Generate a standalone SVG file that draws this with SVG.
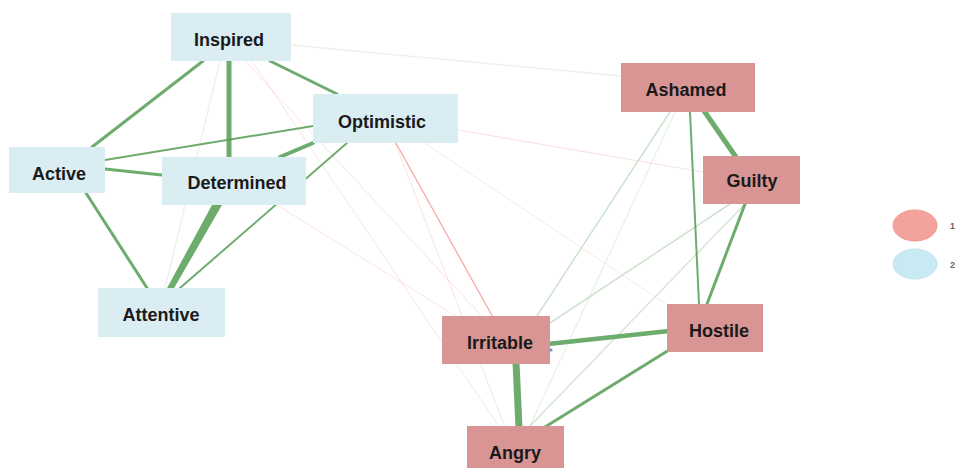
<svg xmlns="http://www.w3.org/2000/svg" width="962" height="468" viewBox="0 0 962 468">
<style>
.bg{fill:#ffffff}
.nb{fill:#daedf3}
.nr{fill:#d99594}
.lbl{font-family:"Liberation Sans",Arial,sans-serif;font-weight:bold;font-size:18px;fill:#1a1a1a;text-anchor:middle}
.g{stroke:#559e55;stroke-linecap:round;fill:none;stroke-opacity:0.85}
.gf{stroke:#6fb06f;stroke-linecap:round;fill:none;stroke-opacity:0.35}
.gvf{stroke:#8cc48c;fill:none;stroke-opacity:0.2}
.r{stroke:#f28c8c;fill:none;stroke-opacity:0.75}
.rf{stroke:#f4a0a0;fill:none;stroke-opacity:0.3}
.leg{font-family:"Liberation Sans",Arial,sans-serif;font-size:9px;font-weight:bold;fill:#666666}
</style>
<rect class="bg" x="0" y="0" width="962" height="468"/>
<g id="connectors">
  <line class="rf" x1="245" y1="61" x2="490" y2="325" stroke-width="1"/>
  <line class="rf" x1="252" y1="61" x2="508" y2="440" stroke-width="1"/>
  <line class="rf" x1="277" y1="205" x2="470" y2="325" stroke-width="1"/>
  <line class="rf" x1="394" y1="140" x2="510" y2="440" stroke-width="1"/>
  <line class="rf" x1="458" y1="130" x2="703" y2="172" stroke-width="1.2"/>
  <line class="rf" x1="420" y1="140" x2="690" y2="320" stroke-width="0.8"/>
  <line class="r" x1="392" y1="136" x2="500" y2="330" stroke-width="1.3"/>
  <line class="gvf" x1="291" y1="45" x2="621" y2="76" stroke-width="1.3"/>
  <line class="gvf" x1="220" y1="61" x2="165" y2="288" stroke-width="1.3"/>
  <line class="g" x1="203" y1="61" x2="92" y2="147" stroke-width="3"/>
  <line class="g" x1="229" y1="55" x2="229" y2="160" stroke-width="5"/>
  <line class="g" x1="270" y1="61" x2="337" y2="94" stroke-width="3"/>
  <line class="g" x1="105" y1="160" x2="313" y2="126" stroke-width="2"/>
  <line class="g" x1="105" y1="169" x2="162" y2="175" stroke-width="3"/>
  <line class="g" x1="86" y1="193" x2="147" y2="288" stroke-width="3"/>
  <line class="g" x1="313" y1="143" x2="280" y2="157" stroke-width="4"/>
  <line class="g" x1="347" y1="143" x2="180" y2="288" stroke-width="2"/>
  <path d="M212,205 L222,205 L173,290 L166,290 Z" fill="#559e55" fill-opacity="0.85"/>
  <line class="gf" x1="670" y1="112" x2="537" y2="316" stroke-width="1.5"/>
  <line class="gvf" x1="675" y1="112" x2="530" y2="426" stroke-width="1.3"/>
  <line class="gf" x1="730" y1="204" x2="550" y2="323" stroke-width="1.5"/>
  <line class="gf" x1="745" y1="204" x2="530" y2="426" stroke-width="1.2"/>
  <line class="g" x1="690" y1="112" x2="699" y2="304" stroke-width="2" stroke-opacity="0.5"/>
  <line class="g" x1="700" y1="105" x2="738" y2="160" stroke-width="5"/>
  <line class="g" x1="745" y1="204" x2="707" y2="304" stroke-width="3"/>
  <line class="g" x1="548" y1="344" x2="669" y2="331" stroke-width="4.5"/>
  <line class="g" x1="669" y1="350" x2="545" y2="427" stroke-width="3"/>
  <line class="g" x1="516" y1="362" x2="519" y2="428" stroke-width="7"/>
</g>
<g id="node-inspired"><rect class="nb" x="171" y="13" width="120" height="48"/><text class="lbl" x="229" y="46">Inspired</text></g>
<g id="node-optimistic"><rect class="nb" x="313" y="94" width="145" height="49"/><text class="lbl" x="382" y="128">Optimistic</text></g>
<g id="node-active"><rect class="nb" x="9" y="147" width="96" height="46"/><text class="lbl" x="59" y="180">Active</text></g>
<g id="node-determined"><rect class="nb" x="162" y="157" width="144" height="48"/><text class="lbl" x="237" y="189">Determined</text></g>
<g id="node-attentive"><rect class="nb" x="98" y="288" width="127" height="49"/><text class="lbl" x="161" y="321">Attentive</text></g>
<g id="node-ashamed"><rect class="nr" x="621" y="63" width="134" height="49"/><text class="lbl" x="686" y="96">Ashamed</text></g>
<g id="node-guilty"><rect class="nr" x="703" y="156" width="97" height="48"/><text class="lbl" x="752" y="187">Guilty</text></g>
<g id="node-hostile"><rect class="nr" x="667" y="304" width="96" height="48"/><text class="lbl" x="719" y="337">Hostile</text></g>
<g id="node-irritable"><rect class="nr" x="442" y="316" width="108" height="48"/><text class="lbl" x="500" y="349">Irritable</text></g>
<g id="node-angry"><rect class="nr" x="467" y="426" width="97" height="46"/><text class="lbl" x="515" y="459">Angry</text></g>
<circle cx="551" cy="350" r="1.6" fill="#3b5bab" fill-opacity="0.7"/>
<g id="legend">
  <ellipse cx="915" cy="225.5" rx="22" ry="15.5" fill="#f4a29c" stroke="#ee9a94" stroke-width="1"/>
  <ellipse cx="915" cy="264" rx="22" ry="15" fill="#c8eaf3" stroke="#bfe4ee" stroke-width="1"/>
  <text class="leg" x="950" y="229">1</text>
  <text class="leg" x="950" y="268">2</text>
</g>
</svg>
